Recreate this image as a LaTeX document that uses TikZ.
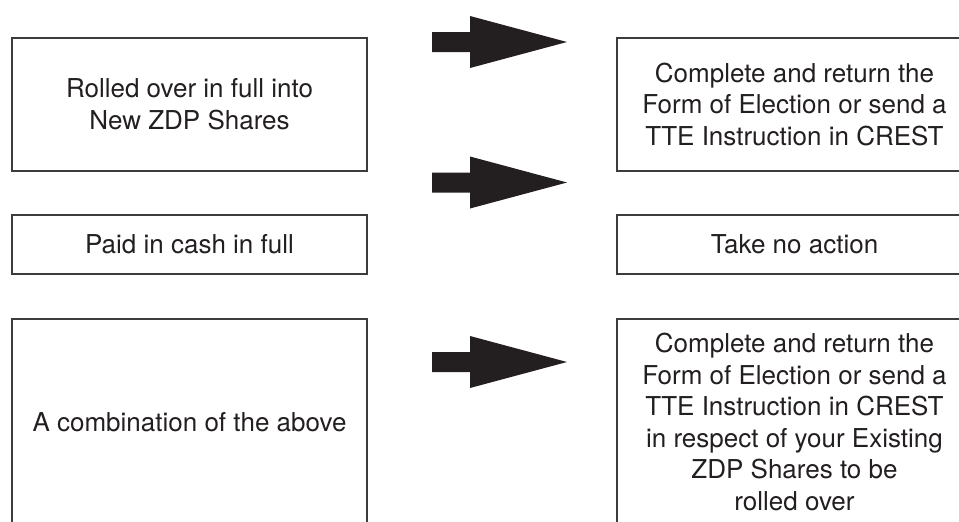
\documentclass[tikz,border=0pt]{standalone}
\usepackage{fontspec}
\setmainfont{TeX Gyre Heros}
\usepackage{tikz}
\usetikzlibrary{positioning,calc}
\definecolor{inkgray}{HTML}{231F20}
\definecolor{framegray}{HTML}{3C3C3C}

\begin{document}
\begin{tikzpicture}[x=1pt,y=-1pt]
\tikzset{choicebox/.style={draw=framegray,line width=1.2pt,text=inkgray,
align=center,minimum width=355pt,inner sep=0pt,
font=\fontsize{26}{31.6}\selectfont}}
\tikzset{fatarrow/.pic={\fill[inkgray] (0,-10) -- (38,-10) -- (38,-26) -- (135,0)
-- (38,26) -- (38,10) -- (0,10) -- cycle;}}
\useasboundingbox (0,0) rectangle (959,522);
\clip (0,0) rectangle (959,522);
% left column
\node[choicebox,minimum height=133pt] (rolled) at (189.5,104.5)
{Rolled over in full into\\New ZDP Shares};
\node[choicebox,minimum height=59pt] (cash) at (189.5,244.5)
{Paid in cash in full};
\node[choicebox,minimum height=206pt] (combo) at (189.5,422)
{A combination of the above};
% right column
\node[choicebox,minimum height=133pt] (elect) at (794.5,104.5)
{Complete and return the\\Form of Election or send a\\TTE Instruction in CREST};
\node[choicebox,minimum height=59pt] (noaction) at (794.5,244.5)
{Take no action};
\node[choicebox,minimum height=206pt] (electpart) at (794.5,422)
{Complete and return the\\Form of Election or send a\\TTE Instruction in CREST\\
in respect of your Existing\\ZDP Shares to be\\rolled over};
% arrows
\coordinate (arrA) at (432,42);
\coordinate (arrB) at (432,182.5);
\coordinate (arrC) at (432,362);
\pic at (arrA) {fatarrow};
\pic at (arrB) {fatarrow};
\pic at (arrC) {fatarrow};
\end{tikzpicture}
\end{document}
